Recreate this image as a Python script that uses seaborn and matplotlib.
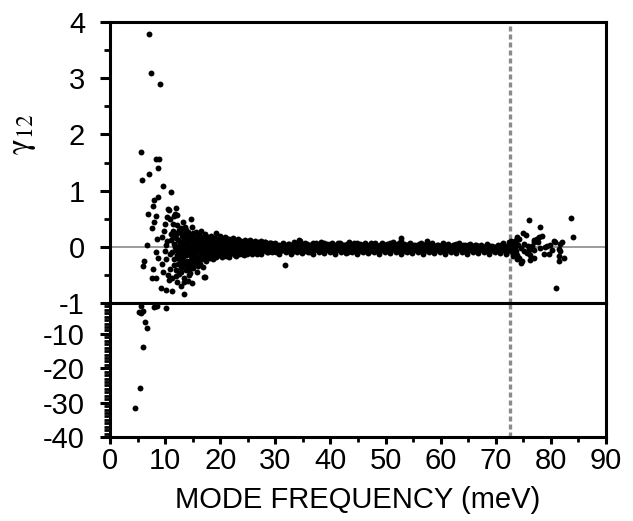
import numpy as np
import matplotlib
matplotlib.use("Agg")
import matplotlib.pyplot as plt
import seaborn as sns
from matplotlib.ticker import MultipleLocator, FixedLocator

# isolated points in the upper panel (low-frequency scatter)
outlier_x = [7.1, 7.5, 9.1, 5.7, 8.4, 8.9, 8.8, 7.1, 5.8, 9.7, 11.1, 8.7, 7.9, 7.8, 6.9, 8.3,
             10.6, 10.7, 12.0, 11.8, 12.2, 11.7, 10.4, 14.7, 7.9, 10.9, 7.7, 9.8, 11.5, 12.8,
             8.6, 9.5, 11.1, 10.1, 6.7, 6.2, 5.9, 7.8, 7.7, 8.4, 9.3, 10.1, 11.3, 13.4,
             9.5, 10.6, 10.7, 14.8, 17.1, 8.3, 8.8, 17.2, 19.2, 31.7, 34.3, 52.8, 57.6]
outlier_y = [3.78, 3.10, 2.90, 1.68, 1.57, 1.57, 1.41, 1.30, 1.19, 1.09, 0.97, 0.88, 0.83, 0.73, 0.59, 0.55,
             0.67, 0.65, 0.69, 0.59, 0.57, 0.55, 0.53, 0.50, 0.45, 0.49, 0.33, 0.29, 0.29, 0.33,
             0.14, 0.17, 0.12, 0.04, 0.04, -0.25, -0.34, -0.40, -0.56, -0.56, -0.73, -0.77, -0.78, -0.84,
             -0.30, -0.50, -0.59, -0.64, -0.54, -0.10, -0.20, -0.54, 0.24, -0.32, 0.12, 0.15, 0.11]

# dense cloud 10 - 20 meV
cloud_x = [11.6, 11.7, 11.8, 11.9, 12.0, 12.1, 12.2, 12.3, 12.4, 12.5, 12.6, 12.7, 12.8, 12.9,
           13.0, 13.1, 13.2, 13.3, 13.4, 13.5, 13.6, 13.7, 13.8, 13.9, 14.0, 14.1, 14.2, 14.3,
           14.4, 14.5, 14.6, 14.7, 14.8, 14.9, 15.0, 15.1, 15.2, 15.3, 15.4, 15.5, 15.6, 15.7,
           15.8, 15.9, 16.0, 16.1, 16.2, 16.3, 16.4, 16.5, 16.6, 16.7, 16.8, 16.9, 17.0, 17.1,
           17.2, 17.3, 17.4, 17.5, 17.6, 17.7, 17.8, 17.9, 18.0, 18.1, 18.2, 18.3, 18.4, 18.5,
           18.6, 18.7, 18.8, 18.9, 19.0, 19.1, 19.2, 19.3, 19.4, 19.5, 19.6, 19.7, 19.8, 19.9, 20.0,
           12.05, 12.15, 12.35, 12.45, 12.65, 12.75, 12.95, 13.05, 13.25, 13.35, 13.55, 13.65,
           13.85, 13.95, 14.15, 14.25, 14.45, 14.55, 14.75, 14.85, 15.05, 15.15, 15.35, 15.45,
           15.65, 15.75, 15.95, 16.05, 16.25, 16.35, 16.55, 16.65, 16.85, 16.95, 17.15, 17.25,
           17.45, 17.55, 17.85, 18.15, 18.45, 18.75, 19.05, 19.35, 19.65, 19.95]
cloud_y = [0.05, -0.22, 0.21, -0.41, -0.05, 0.38, -0.63, 0.12, -0.30, 0.02, -0.48, 0.27, -0.12, -0.70,
           0.08, -0.35, 0.44, -0.18, -0.55, 0.15, -0.02, -0.42, 0.30, -0.25, 0.06, -0.60, -0.10, 0.22,
           -0.32, 0.00, -0.46, 0.12, -0.20, 0.35, -0.08, -0.38, 0.18, -0.15, 0.04, -0.28, 0.26, -0.05,
           -0.44, 0.10, -0.18, 0.20, -0.02, -0.30, 0.14, -0.12, 0.28, -0.22, 0.03, -0.36, 0.16, -0.06,
           0.22, -0.16, 0.06, -0.26, 0.12, -0.04, 0.18, -0.12, 0.02, -0.20, 0.14, -0.08, 0.20, -0.14,
           0.04, -0.22, 0.10, -0.06, 0.16, -0.12, 0.02, -0.18, 0.12, -0.04, 0.08, -0.14, 0.14, -0.08, 0.04,
           0.15, -0.15, -0.08, 0.30, -0.25, 0.05, -0.38, 0.20, -0.06, 0.10, -0.30, 0.25,
           -0.12, 0.16, 0.02, -0.40, 0.18, -0.14, -0.30, 0.08, 0.24, -0.02, -0.20, 0.12,
           -0.10, 0.06, -0.24, 0.08, -0.08, 0.16, -0.04, 0.10, -0.14, 0.06, -0.10, 0.02,
           -0.08, 0.08, -0.02, 0.06, -0.04, 0.02, -0.02, 0.04, -0.02, 0.00]
cloud3_x = [11.25, 11.45, 11.65, 11.85, 12.02, 12.22, 12.32, 12.52, 12.62, 12.82, 12.92, 13.12,
            13.22, 13.42, 13.52, 13.72, 13.82, 14.02, 14.12, 14.32, 14.42, 14.62, 14.72, 14.92,
            15.02, 15.22, 15.32, 15.52, 15.62, 15.82, 15.92, 16.12, 16.22, 16.42, 16.52, 16.72,
            16.82, 17.02, 17.12, 17.32, 17.42, 17.62, 17.72, 17.92, 18.02, 18.22, 18.32, 18.52,
            18.62, 18.82, 18.92, 19.12, 19.22, 19.42, 19.52, 19.72, 19.82, 10.2, 10.4, 10.8,
            11.0, 11.3, 10.9, 9.9, 10.0, 9.6, 11.4]
cloud3_y = [-0.10, 0.18, -0.32, 0.00, -0.52, 0.24, -0.20, 0.10, -0.08, -0.45, 0.32, -0.26,
            0.02, -0.62, 0.36, -0.14, 0.06, -0.34, 0.26, -0.50, -0.04, 0.20, -0.24, -0.12,
            0.10, -0.30, 0.02, 0.16, -0.18, 0.04, -0.34, -0.08, 0.22, -0.20, 0.06, -0.10,
            0.18, -0.18, 0.08, -0.04, 0.14, -0.16, 0.04, -0.08, 0.10, -0.12, 0.00, 0.08,
            -0.10, -0.02, 0.10, 0.06, -0.08, -0.02, 0.10, 0.02, -0.06, -0.22, 0.10, -0.40,
            0.22, -0.55, -0.12, -0.08, 0.40, -0.45, 0.40]

# band 20 - 31 meV
mid_x = [20.2, 20.4, 20.6, 20.8, 21.0, 21.2, 21.4, 21.6, 21.8, 22.0, 22.2, 22.4, 22.6, 22.8,
         23.0, 23.2, 23.4, 23.6, 23.8, 24.0, 24.2, 24.4, 24.6, 24.8, 25.0, 25.2, 25.4, 25.6,
         25.8, 26.0, 26.2, 26.4, 26.6, 26.8, 27.0, 27.2, 27.4, 27.6, 27.8, 28.0, 28.2, 28.4,
         28.6, 28.8, 29.0, 29.2, 29.4, 29.6, 29.8, 30.0, 30.2, 30.4, 30.6, 30.8, 31.0,
         20.1, 20.3, 20.5, 20.7, 20.9, 21.1, 21.3, 21.5, 21.7, 21.9, 22.1, 22.3, 22.5, 22.7,
         22.9, 23.1, 23.3, 23.5, 23.7, 23.9, 24.1, 24.3, 24.5, 24.7, 24.9, 25.1, 25.3, 25.5,
         25.7, 25.9, 26.1, 26.3, 26.5, 26.7, 26.9, 27.1, 27.3, 27.5, 27.7, 27.9, 28.1, 28.3,
         28.5, 28.7, 28.9, 29.1, 29.3, 29.5, 29.7, 29.9, 30.1, 30.3, 30.5, 30.7, 30.9]
mid_y = [-0.10, 0.12, -0.02, 0.18, -0.16, 0.06, -0.08, 0.14, -0.12, 0.04, -0.06, 0.10, -0.14, 0.02,
         0.12, -0.10, 0.06, -0.04, 0.10, -0.12, 0.02, 0.08, -0.08, 0.04, -0.10, 0.10, -0.02, 0.06,
         -0.12, 0.00, 0.08, -0.06, 0.04, -0.10, 0.06, -0.02, 0.10, -0.08, 0.02, -0.04, 0.08, -0.10,
         0.04, -0.06, 0.06, -0.02, -0.10, 0.04, -0.06, 0.02, -0.08, 0.00, -0.12, 0.02, -0.06,
         0.02, -0.04, 0.06, -0.08, 0.02, -0.02, 0.08, -0.04, 0.02, -0.06, 0.06, -0.02, 0.02, -0.06,
         0.06, -0.04, 0.00, 0.04, -0.08, 0.02, -0.04, 0.04, -0.02, 0.06, -0.06, 0.02, -0.04, 0.04,
         -0.02, 0.06, -0.06, 0.02, -0.02, 0.04, -0.04, 0.02, -0.06, 0.00, 0.04, -0.06, 0.02, -0.02,
         0.04, -0.04, 0.00, -0.06, 0.04, -0.02, 0.02, -0.04, 0.04, -0.04, 0.02, -0.02, 0.00]
mid3_x = [20.05, 20.25, 20.45, 20.65, 20.85, 21.05, 21.25, 21.45, 21.65, 21.85, 22.05, 22.25,
          22.45, 22.65, 22.85, 23.05, 23.25, 23.45, 23.65, 23.85, 24.05, 24.25, 24.45, 24.65,
          24.85, 25.05, 25.25, 25.45, 25.65, 25.85, 26.05, 26.25, 26.45, 26.65, 26.85, 27.05,
          27.25, 27.45, 27.65, 27.85, 28.05, 28.25, 28.45, 28.65, 28.85, 29.05, 29.25, 29.45,
          29.65, 29.85, 30.05, 30.25, 30.45, 30.65, 30.85]
mid3_y = [0.20, -0.18, 0.08, -0.12, 0.10, 0.16, -0.14, 0.04, -0.18, 0.12, -0.10, 0.16,
          -0.08, 0.08, -0.16, -0.02, 0.14, -0.12, 0.10, -0.06, 0.08, -0.14, 0.12, 0.00,
          -0.12, 0.08, -0.08, 0.12, -0.10, 0.04, -0.10, 0.10, -0.02, -0.12, 0.08, -0.08,
          0.06, -0.12, 0.08, -0.04, 0.08, -0.06, 0.02, -0.10, 0.06, -0.08, 0.06, 0.02,
          -0.08, 0.06, -0.10, 0.04, -0.06, 0.04, -0.08]

# narrow band 31 - 72.5 meV
band_x = [31.25, 31.5, 31.75, 32.0, 32.25, 32.5, 32.75, 33.0, 33.25, 33.5, 33.75, 34.0, 34.25, 34.5,
          34.75, 35.0, 35.25, 35.5, 35.75, 36.0, 36.25, 36.5, 36.75, 37.0, 37.25, 37.5, 37.75, 38.0,
          38.25, 38.5, 38.75, 39.0, 39.25, 39.5, 39.75, 40.0, 40.25, 40.5, 40.75, 41.0, 41.25, 41.5,
          41.75, 42.0, 42.25, 42.5, 42.75, 43.0, 43.25, 43.5, 43.75, 44.0, 44.25, 44.5, 44.75, 45.0,
          45.25, 45.5, 45.75, 46.0, 46.25, 46.5, 46.75, 47.0, 47.25, 47.5, 47.75, 48.0, 48.25, 48.5,
          48.75, 49.0, 49.25, 49.5, 49.75, 50.0, 50.25, 50.5, 50.75, 51.0, 51.25, 51.5, 51.75, 52.0,
          52.25, 52.5, 52.75, 53.0, 53.25, 53.5, 53.75, 54.0, 54.25, 54.5, 54.75, 55.0, 55.25, 55.5,
          55.75, 56.0, 56.25, 56.5, 56.75, 57.0, 57.25, 57.5, 57.75, 58.0, 58.25, 58.5, 58.75, 59.0,
          59.25, 59.5, 59.75, 60.0, 60.25, 60.5, 60.75, 61.0, 61.25, 61.5, 61.75, 62.0, 62.25, 62.5,
          62.75, 63.0, 63.25, 63.5, 63.75, 64.0, 64.25, 64.5, 64.75, 65.0, 65.25, 65.5, 65.75, 66.0,
          66.25, 66.5, 66.75, 67.0, 67.25, 67.5, 67.75, 68.0, 68.25, 68.5, 68.75, 69.0, 69.25, 69.5,
          69.75, 70.0, 70.25, 70.5, 70.75, 71.0, 71.25, 71.5, 71.75, 72.0, 72.25, 72.5]
band_y = [-0.02, 0.04, -0.08, 0.02, -0.05, 0.05, -0.03, -0.09, 0.03, -0.01, 0.06, -0.06, 0.01, 0.10,
          -0.04, 0.03, -0.07, 0.00, 0.05, -0.03, -0.09, 0.02, 0.06, -0.05, 0.01, -0.02, 0.04, -0.08,
          0.03, -0.04, 0.06, 0.00, -0.06, 0.02, -0.03, 0.05, -0.08, 0.01, 0.04, -0.05, 0.02, -0.02,
          0.06, -0.07, 0.00, 0.03, -0.04, 0.05, -0.09, 0.02, -0.01, 0.04, -0.06, 0.01, 0.06, -0.03,
          0.02, -0.08, 0.04, -0.02, 0.05, -0.05, 0.00, 0.03, -0.07, 0.04, -0.01, 0.06, -0.04, 0.02,
          -0.09, 0.03, -0.02, 0.05, -0.06, 0.01, 0.04, -0.03, 0.07, -0.05, 0.02, -0.01, 0.05, -0.07,
          0.03, 0.00, 0.10, -0.04, 0.02, -0.08, 0.04, -0.02, 0.05, -0.05, 0.01, 0.03, -0.06, 0.02,
          -0.03, 0.05, -0.04, 0.00, 0.04, -0.08, 0.02, -0.02, 0.05, -0.05, 0.01, 0.03, -0.07, 0.02,
          -0.03, 0.04, -0.05, 0.01, 0.03, -0.06, 0.00, 0.04, -0.04, 0.02, -0.08, 0.01, 0.03, -0.03,
          0.05, -0.06, 0.00, 0.02, -0.04, 0.03, -0.07, 0.01, -0.02, 0.04, -0.05, 0.00, 0.02, -0.06,
          0.03, -0.02, 0.01, -0.05, 0.02, -0.03, 0.00, -0.06, 0.02, -0.02, -0.05, 0.01, -0.04, 0.00,
          -0.07, -0.02, 0.02, -0.05, -0.01, 0.03, -0.04, 0.02, -0.06, 0.01, -0.03, 0.04]
band2_x = [31.1, 31.6, 32.1, 32.6, 33.1, 33.6, 34.1, 34.6, 35.1, 35.6, 36.1, 36.6, 37.1, 37.6,
           38.1, 38.6, 39.1, 39.6, 40.1, 40.6, 41.1, 41.6, 42.1, 42.6, 43.1, 43.6, 44.1, 44.6,
           45.1, 45.6, 46.1, 46.6, 47.1, 47.6, 48.1, 48.6, 49.1, 49.6, 50.1, 50.6, 51.1, 51.6,
           52.1, 52.6, 53.1, 53.6, 54.1, 54.6, 55.1, 55.6, 56.1, 56.6, 57.1, 57.6, 58.1, 58.6,
           59.1, 59.6, 60.1, 60.6, 61.1, 61.6, 62.1, 62.6, 63.1, 63.6, 64.1, 64.6, 65.1, 65.6,
           66.1, 66.6, 67.1, 67.6, 68.1, 68.6, 69.1, 69.6, 70.1, 70.6, 71.1, 71.6, 72.1, 72.4]
band2_y = [-0.04, -0.01, -0.06, 0.00, -0.03, 0.02, -0.05, -0.01, 0.01, -0.05, -0.02, 0.01, -0.06, 0.00,
           -0.03, 0.02, -0.05, -0.01, 0.01, -0.04, -0.06, 0.00, -0.02, -0.05, 0.01, -0.04, -0.01, -0.06,
           0.00, -0.03, -0.06, 0.02, -0.02, -0.05, 0.00, -0.04, -0.06, 0.01, -0.03, -0.05, 0.00, -0.04,
           -0.01, -0.06, 0.01, -0.03, -0.05, 0.00, -0.04, -0.01, -0.06, 0.02, -0.03, -0.05, 0.00, -0.02,
           -0.06, 0.01, -0.04, -0.02, -0.05, 0.00, -0.03, -0.06, 0.01, -0.04, -0.02, -0.05, 0.00, -0.03,
           -0.06, -0.01, -0.04, -0.02, -0.05, 0.00, -0.03, -0.06, -0.02, -0.04, 0.00, -0.08, -0.05, 0.00]
band3_x = [31.35, 31.85, 32.35, 32.85, 33.35, 33.85, 34.35, 34.85, 35.35, 35.85, 36.35, 36.85,
           37.35, 37.85, 38.35, 38.85, 39.35, 39.85, 40.35, 40.85, 41.35, 41.85, 42.35, 42.85,
           43.35, 43.85, 44.35, 44.85, 45.35, 45.85, 46.35, 46.85, 47.35, 47.85, 48.35, 48.85,
           49.35, 49.85, 50.35, 50.85, 51.35, 51.85, 52.35, 52.85, 53.35, 53.85, 54.35, 54.85,
           55.35, 55.85, 56.35, 56.85, 57.35, 57.85, 58.35, 58.85, 59.35, 59.85, 60.35, 60.85,
           61.35, 61.85, 62.35, 62.85, 63.35, 63.85, 64.35, 64.85, 65.35, 65.85, 66.35, 66.85,
           67.35, 67.85, 68.35, 68.85, 69.35, 69.85, 70.35, 70.85, 71.35, 71.85, 72.35]
band3_y = [0.07, -0.10, 0.05, -0.12, 0.08, -0.09, 0.06, -0.11, 0.07, -0.10, 0.04, -0.12,
           0.06, -0.09, 0.08, -0.11, 0.05, -0.10, 0.07, -0.12, 0.06, -0.09, 0.04, -0.11,
           0.08, -0.10, 0.06, -0.12, 0.05, -0.09, 0.07, -0.11, 0.06, -0.10, 0.04, -0.12,
           0.07, -0.09, 0.05, -0.11, 0.08, -0.10, 0.06, -0.12, 0.05, -0.09, 0.07, -0.11,
           0.04, -0.10, 0.06, -0.12, 0.05, -0.09, 0.07, -0.11, 0.04, -0.10, 0.06, -0.12,
           0.05, -0.09, 0.04, -0.11, 0.06, -0.10, 0.03, -0.12, 0.05, -0.09, 0.04, -0.11,
           0.03, -0.10, 0.05, -0.12, 0.02, -0.09, 0.04, -0.11, 0.06, -0.13, 0.08]

# scattered modes above the cutoff
tail_x = [76.1, 78.1, 83.7, 84.0, 78.3, 77.5, 77.0, 77.6, 80.5, 80.7, 79.9, 79.3, 81.7, 82.0,
          81.5, 81.7, 78.7, 79.6, 81.5, 82.3, 81.5, 76.6, 76.9, 74.9, 75.4, 73.9, 74.2, 73.6,
          76.9, 77.4, 77.8, 74.5, 75.1, 75.7, 76.3, 73.9, 74.2, 74.8, 74.5, 76.3, 76.9, 81.0,
          72.8, 73.0, 73.2, 73.3, 72.9, 73.1, 73.5, 73.4, 72.7, 73.6, 72.8, 73.2, 73.8, 75.8,
          76.0, 75.2, 74.0, 73.7, 78.0, 80.2, 79.0]
tail_y = [0.47, 0.36, 0.52, 0.18, 0.20, 0.14, 0.08, 0.09, 0.11, 0.08, 0.04, 0.02, 0.05, 0.08,
          -0.04, -0.08, -0.12, -0.12, -0.17, -0.20, -0.25, 0.01, -0.05, 0.24, 0.21, 0.17, 0.14, 0.11,
          0.12, 0.14, 0.17, -0.02, -0.08, -0.11, -0.14, -0.14, -0.20, -0.26, -0.29, -0.23, -0.20, -0.73,
          0.05, -0.02, 0.08, -0.06, 0.02, -0.10, 0.04, -0.04, -0.08, 0.12, 0.10, -0.16, -0.22, 0.02,
          -0.06, 0.05, 0.03, -0.08, -0.02, -0.06, 0.00]

# large negative values (lower panel)
low_x = [5.9, 6.4, 6.8, 5.3, 5.6, 5.9, 5.4, 4.5, 8.0, 8.3, 10.1, 5.7, 8.6]
low_y = [-13.9, -6.6, -8.3, -3.5, -4.0, -3.3, -25.8, -31.5, -2.1, -1.8, -2.4, -1.8, -2.0]

cutoff = 72.6

sns.set_style("ticks")
plt.rcParams['font.family'] = ['Liberation Sans', 'DejaVu Sans']
plt.rcParams['mathtext.fontset'] = 'stix'
plt.rcParams['axes.unicode_minus'] = False
for key in ('text.color', 'axes.labelcolor', 'xtick.color', 'ytick.color', 'axes.edgecolor'):
    plt.rcParams[key] = 'black'

fig = plt.figure(figsize=(6.33, 5.21), dpi=100)
W, H = 633, 521
ax_top = fig.add_axes([110 / W, 1 - 303 / H, 496 / W, 281 / H])
ax_bot = fig.add_axes([110 / W, 1 - 437 / H, 496 / W, 134 / H], sharex=ax_top)

top_x = outlier_x + cloud_x + cloud3_x + mid_x + mid3_x + band_x + band2_x + band3_x + tail_x
top_y = outlier_y + cloud_y + cloud3_y + mid_y + mid3_y + band_y + band2_y + band3_y + tail_y

for ax in (ax_top, ax_bot):
    ax.axvline(cutoff, color='#8c8c8c', lw=2.4, ls=(0, (1.5, 0.9)), zorder=1)
ax_top.axhline(0, color='#808080', lw=1.1, zorder=1)

sns.scatterplot(x=top_x, y=top_y, ax=ax_top, s=18, color='black', linewidth=0, zorder=3)
sns.scatterplot(x=low_x, y=low_y, ax=ax_bot, s=18, color='black', linewidth=0, zorder=3)

ax_top.set_xlim(0, 90)
ax_top.set_ylim(-1, 4)
ax_bot.set_ylim(-40, -1)

ax_top.yaxis.set_major_locator(FixedLocator([0, 1, 2, 3, 4]))
ax_top.yaxis.set_minor_locator(FixedLocator([-0.5, 0.5, 1.5, 2.5, 3.5]))
ax_bot.yaxis.set_major_locator(FixedLocator([-1, -10, -20, -30, -40]))
ax_bot.yaxis.set_minor_locator(MultipleLocator(1))
ax_bot.xaxis.set_major_locator(MultipleLocator(10))
ax_bot.xaxis.set_minor_locator(MultipleLocator(5))

for ax in (ax_top, ax_bot):
    for sp in ax.spines.values():
        sp.set_visible(True)
        sp.set_linewidth(2.2)
        sp.set_color('black')
    ax.tick_params(axis='y', which='major', direction='out', length=7, width=2.2,
                   labelsize=21, pad=11)
    ax.tick_params(axis='y', which='minor', direction='out', length=4, width=2.0)

ax_top.tick_params(axis='x', which='both', bottom=False, labelbottom=False)
ax_bot.tick_params(axis='x', which='major', direction='out', length=5, width=2.2,
                   labelsize=21, pad=2)
ax_bot.tick_params(axis='x', which='minor', direction='out', length=3.5, width=2.0)

ax_bot.set_xlabel('MODE FREQUENCY (meV)', fontsize=21, labelpad=8)
ax_top.set_ylabel(r'$\mathrm{\gamma}_{12}$', fontsize=24)
ax_top.yaxis.set_label_coords(-0.145, 0.6)

fig.savefig('out.png', dpi=100)
